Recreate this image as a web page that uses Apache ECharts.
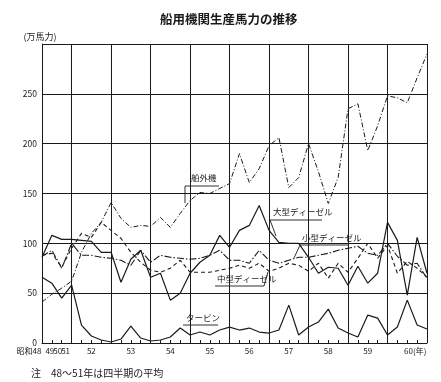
<!DOCTYPE html>
<html><head><meta charset="utf-8">
<script src="https://cdn.jsdelivr.net/npm/echarts@6/dist/echarts.min.js"></script>
<style>html,body{margin:0;padding:0;background:#fff}#c{width:441px;height:382px}</style>
</head><body><div id="c"></div>
<script>
// ---- data ----
const annualYears = ['48', '49', '50', '51'];          // 昭和48～51年 (四半期の平均)
const quarterYears = ['52', '53', '54', '55', '56', '57', '58', '59', '60'];
const yTicks = [0, 50, 100, 150, 200, 250];
const seriesNames = ['船外機', '大型ディーゼル', '小型ディーゼル', '中型ディーゼル', 'タービン'];

const outboard = [41, 49, 55, 62, 91, 110, 121, 141, 125, 116, 118, 117, 126, 116, 130, 143, 151, 150, 155, 160,
  190, 161, 175, 198, 206, 156, 166, 200, 172, 140, 166, 235, 240, 193, 218, 248, 246, 241, 266, 290];
const largeDiesel = [86, 108, 104, 104, 103, 102, 91, 91, 61, 84, 93, 66, 70, 43, 50, 70, 81, 88, 108, 96,
  113, 118, 138, 113, 101, 100, 100, 86, 70, 76, 75, 58, 77, 60, 70, 121, 103, 48, 106, 70];
const smallDiesel = [87, 93, 75, 100, 88, 88, 86, 85, 83, 78, 93, 81, 88, 86, 85, 84, 85, 88, 93, 83,
  83, 80, 93, 83, 80, 83, 86, 86, 88, 90, 93, 95, 97, 90, 88, 100, 87, 78, 80, 65];
const mediumDiesel = [88, 90, 76, 95, 110, 106, 121, 113, 105, 91, 81, 73, 71, 75, 83, 71, 71, 71, 73, 75,
  78, 75, 80, 72, 75, 80, 78, 72, 80, 65, 80, 71, 85, 100, 85, 98, 70, 82, 75, 66];
const turbine = [66, 60, 45, 58, 18, 7, 3, 1, 4, 17, 5, 2, 3, 6, 15, 8, 11, 8, 13, 16,
  13, 15, 11, 10, 13, 38, 8, 16, 21, 34, 15, 10, 6, 28, 25, 8, 16, 43, 18, 14];

// ---- build categories ----
const categories = [];
annualYears.forEach(y => categories.push(y));
quarterYears.forEach(y => { for (let q = 1; q <= 4; q++) categories.push(y + '-' + q); });

const FONT = '"Noto Sans CJK JP", "Liberation Sans", sans-serif';
const INK = '#1a1a1a';

function xLabel(value, index) {
  if (index === 0) return '{a|昭和' + value + '}';
  if (index === 1) return '{b|' + value + '}';
  if (index === 2) return '{c|' + value + '}';
  if (index === 3) return '{d|' + value + '}';
  const parts = value.split('-');
  if (parts[1] === '2') {
    if (parts[0] === quarterYears[quarterYears.length - 1]) return '{e|' + parts[0] + '(年)}';
    return '{n|' + parts[0] + '}';
  }
  return '';
}
const lf = { fontSize: 8, fontFamily: FONT, color: INK };
const isBoundary = (i) => i === 3 || (i > 3 && (i - 3) % 4 === 0);

const styles = [
  { type: [5, 2, 1, 2], width: 1 },
  { type: 'solid', width: 1.2 },
  { type: [7, 2, 1.5, 2], width: 1.1 },
  { type: [4, 3], width: 1.1 },
  { type: 'solid', width: 1.2 }
];
const values = [outboard, largeDiesel, smallDiesel, mediumDiesel, turbine];

const chart = echarts.init(document.getElementById('c'), null, { renderer: 'canvas' });

function line(p) { return { type: 'polyline', shape: { points: p }, style: { stroke: INK, lineWidth: 0.9, fill: null }, silent: true }; }
function txt(x, y, s) { return { type: 'text', x: x, y: y, style: { text: s, fontSize: 8.5, fontFamily: FONT, fill: INK }, silent: true }; }

chart.setOption({
  animation: false,
  backgroundColor: '#fff',
  title: [
    { text: '船用機関生産馬力の推移', left: 155, top: 8, textStyle: { fontSize: 12.5, fontWeight: 'bold', fontFamily: FONT, color: INK } },
    { text: '注　48～51年は四半期の平均', left: 26, top: 363, textStyle: { fontSize: 10, fontWeight: 'normal', fontFamily: FONT, color: INK } }
  ],
  grid: { left: 42, right: 14, top: 44, bottom: 39 },
  xAxis: {
    type: 'category', data: categories, boundaryGap: false,
    axisLine: { lineStyle: { color: INK, width: 1 } },
    axisTick: { show: true, inside: true, length: 3, interval: 0, lineStyle: { color: INK } },
    axisLabel: {
      interval: 0, margin: 4, formatter: xLabel, fontSize: 8, fontFamily: FONT, color: INK,
      rich: {
        a: Object.assign({ padding: [0, 26, 0, 0] }, lf),
        b: Object.assign({ padding: [0, 4, 0, 0] }, lf),
        c: Object.assign({ padding: [0, 8, 0, 0] }, lf),
        d: Object.assign({ padding: [0, 12, 0, 0] }, lf),
        e: Object.assign({ padding: [0, 0, 0, 16] }, lf),
        n: Object.assign({}, lf)
      }
    },
    splitLine: { show: true, interval: (i) => isBoundary(i), lineStyle: { color: INK, width: 1 } }
  },
  yAxis: {
    type: 'value', min: 0, max: 300, interval: 50,
    name: '(万馬力)', nameLocation: 'end', nameGap: 3,
    nameTextStyle: { fontSize: 9, fontFamily: FONT, color: INK, padding: [0, 0, 0, -4] },
    axisLine: { show: true, lineStyle: { color: INK, width: 1 } },
    axisTick: { show: false },
    axisLabel: { fontSize: 8.5, fontFamily: FONT, color: INK, margin: 5,
      formatter: (v) => yTicks.indexOf(v) >= 0 ? String(v) : '' },
    splitLine: { show: true, lineStyle: { color: INK, width: 1 } }
  },
  series: values.map((d, k) => ({
    name: seriesNames[k], type: 'line', data: d, symbol: 'none', smooth: false,
    lineStyle: { color: INK, width: styles[k].width, type: styles[k].type }
  })),
  graphic: [
    txt(191, 174, seriesNames[0]), line([[185, 203], [185, 186], [219, 186]]),
    txt(273, 208, seriesNames[1]), line([[276, 236], [270, 220], [322, 220]]),
    txt(302, 234, seriesNames[2]), line([[294, 258], [300, 245], [348, 245]]),
    txt(217, 275, seriesNames[3]), line([[268, 272], [264, 286], [215, 286]]),
    txt(186, 314, seriesNames[4]), line([[183, 325], [218, 325]])
  ]
});
</script></body></html>
